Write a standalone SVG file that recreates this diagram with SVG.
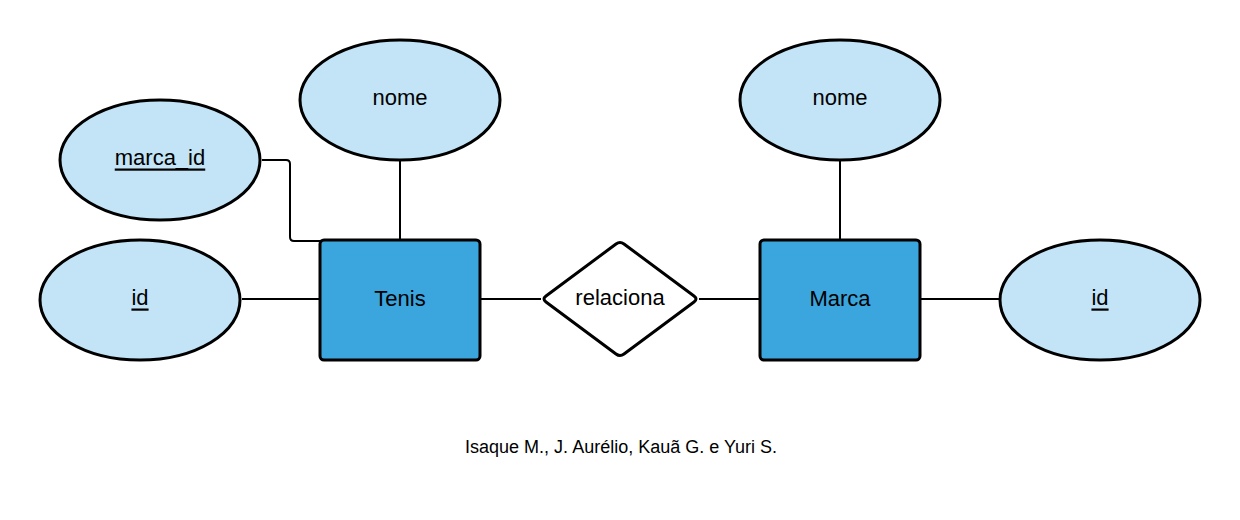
<svg xmlns="http://www.w3.org/2000/svg" width="1240" height="520" viewBox="0 0 1240 520">
<style>
.attr{fill:#c2e4f6;stroke:#000;stroke-width:3}
.ent{fill:#3ba5dd;stroke:#000;stroke-width:3}
.rel{fill:#fff;stroke:#000;stroke-width:3;stroke-linejoin:round}
.ln{fill:none;stroke:#000;stroke-width:2}
text{font-family:"Liberation Sans",Arial,sans-serif;font-size:22px;fill:#000;text-anchor:middle;dominant-baseline:central}
.u{text-decoration:underline}
.cap{font-size:18px}
</style>
<rect width="1240" height="520" fill="#fff"/>
<g id="connectors">
<path class="ln" d="M262 160 H286 Q290 160 290 164 V237 Q290 241 294 241 H320"/>
<path class="ln" d="M400 161 V240"/>
<path class="ln" d="M840 161 V240"/>
<path class="ln" d="M242 299 H320"/>
<path class="ln" d="M481 299 H541"/>
<path class="ln" d="M699 299 H760"/>
<path class="ln" d="M921 299 H1000"/>
</g>
<g id="nome1"><ellipse class="attr" cx="400" cy="100" rx="100" ry="60"/><text x="400" y="97">nome</text></g>
<g id="marca_id"><ellipse class="attr" cx="160" cy="160" rx="100" ry="60"/><text class="u" x="160" y="157">marca_id</text></g>
<g id="id1"><ellipse class="attr" cx="140" cy="300" rx="100" ry="60"/><text class="u" x="140" y="297">id</text></g>
<g id="tenis"><rect class="ent" x="320" y="240" width="160" height="120" rx="4"/><text x="400" y="298">Tenis</text></g>
<g id="relaciona"><path class="rel" d="M616 244 Q620 241 624 244 L694 296 Q698 299 694 302 L624 354 Q620 357 616 354 L546 302 Q542 299 546 296 Z"/><text x="620" y="297">relaciona</text></g>
<g id="marca"><rect class="ent" x="760" y="240" width="160" height="120" rx="4"/><text x="840" y="298">Marca</text></g>
<g id="nome2"><ellipse class="attr" cx="840" cy="100" rx="100" ry="60"/><text x="840" y="97">nome</text></g>
<g id="id2"><ellipse class="attr" cx="1100" cy="300" rx="100" ry="60"/><text class="u" x="1100" y="297">id</text></g>
<text class="cap" x="621" y="447">Isaque M., J. Aurélio, Kauã G. e Yuri S.</text>
</svg>
